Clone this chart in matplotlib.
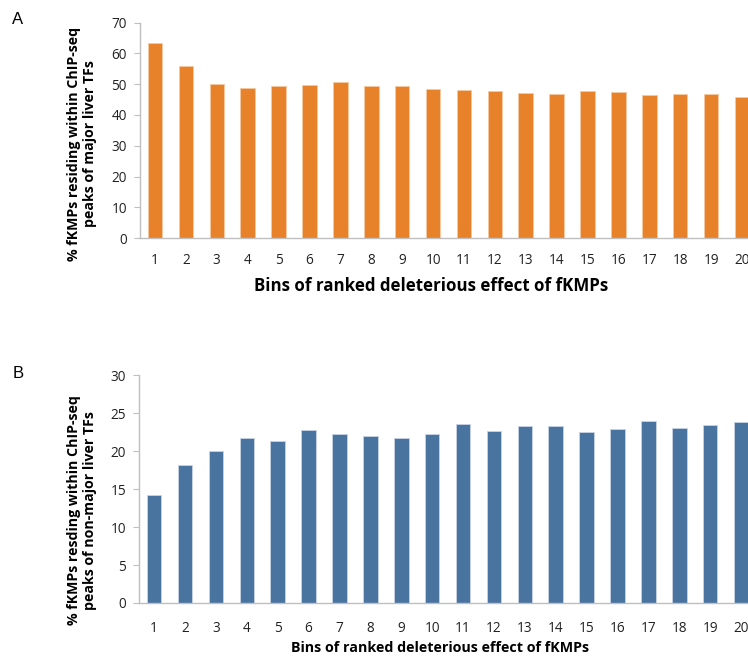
import matplotlib
matplotlib.use("Agg")
import matplotlib.pyplot as plt

bins = [str(i) for i in range(1, 21)]
major_tf = [63.3, 56.0, 50.2, 48.8, 49.4, 49.9, 50.6, 49.4, 49.4, 48.5,
            48.0, 47.8, 47.2, 46.9, 47.8, 47.5, 46.6, 46.9, 46.9, 45.8]
nonmajor_tf = [14.2, 18.1, 20.0, 21.75, 21.35, 22.7, 22.25, 21.95, 21.65, 22.25,
               23.5, 22.6, 23.25, 23.25, 22.5, 22.9, 23.9, 23.0, 23.4, 23.8]

xlabel_txt = "Bins of ranked deleterious effect of fKMPs"
ylabel_a = "% fKMPs residing within ChIP-seq\npeaks of major liver TFs"
ylabel_b = "% fKMPs resding within ChIP-seq\npeaks of non-major liver TFs"

plt.rcParams['font.family'] = ['Open Sans', 'DejaVu Sans']

fig = plt.figure(figsize=(7.48, 6.66), dpi=100)
ax_a = fig.add_axes([0.1866, 0.6426, 0.826, 0.3233])
ax_b = fig.add_axes([0.1854, 0.0946, 0.826, 0.3423])

def style(ax, ymax, ystep, xpad):
    for s in ['top', 'right']:
        ax.spines[s].set_visible(False)
    for s in ['left', 'bottom']:
        ax.spines[s].set_color('#bfbfbf')
        ax.spines[s].set_linewidth(1.0)
    ax.set_ylim(0, ymax)
    ax.set_yticks(range(0, ymax + 1, ystep))
    ax.set_xlim(-0.5, 19.5)
    ax.tick_params(axis='y', length=4, color='#bfbfbf', labelsize=9.8, pad=5, labelcolor='#222222')
    ax.tick_params(axis='x', length=0, labelsize=9.8, pad=11 if xpad is None else xpad, labelcolor='#222222')

x = list(range(len(bins)))
ax_a.bar(x, major_tf, width=0.47, color='#E8822A', edgecolor='#f6c9a0', linewidth=0.6)
ax_a.set_xticks(x)
ax_a.set_xticklabels(bins)
style(ax_a, 70, 10, 11)
ax_a.set_xlabel(xlabel_txt, fontsize=12.2, fontweight='bold', va='center')
ax_a.xaxis.set_label_coords(0.472, -0.2235)

ax_b.bar(x, nonmajor_tf, width=0.47, color='#4A74A0', edgecolor='#c7d4e4', linewidth=0.6)
ax_b.set_xticks(x)
ax_b.set_xticklabels(bins)
style(ax_b, 30, 5, 13)
ax_b.set_xlabel(xlabel_txt, fontsize=10.3, fontweight='bold', va='center')
ax_b.xaxis.set_label_coords(0.488, -0.197)

fig.text(82 / 748, 0.784, ylabel_a, rotation=90, ha='center', va='center',
         multialignment='center', fontsize=10.2, fontweight='bold', linespacing=1.2)
fig.text(82 / 748, 0.234, ylabel_b, rotation=90, ha='center', va='center',
         multialignment='center', fontsize=10.2, fontweight='bold', linespacing=1.2)

fig.text(18 / 748, 1 - 20 / 666, "A", fontsize=12, ha='center', va='center', family='Liberation Sans')
fig.text(18 / 748, 1 - 373 / 666, "B", fontsize=12, ha='center', va='center', family='Liberation Sans')

fig.savefig("out.png", dpi=100)
